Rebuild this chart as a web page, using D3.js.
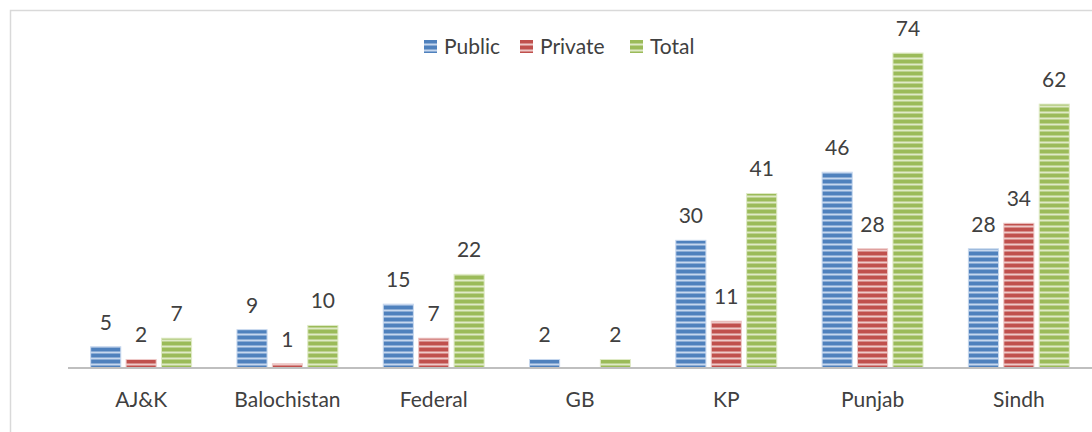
<!DOCTYPE html>
<html>
<head>
<meta charset="utf-8">
<script src="https://cdn.jsdelivr.net/npm/d3@7"></script>
<style>
  html, body { margin: 0; padding: 0; background: #fff; }
  svg { display: block; }
  text { font-family: Lato, "Liberation Sans", sans-serif; fill: #404040; }
</style>
</head>
<body>
<script>
var
  categories = ['AJ&K', 'Balochistan', 'Federal', 'GB', 'KP', 'Punjab', 'Sindh'],
  seriesNames = ['Public', 'Private', 'Total'],
  publicValues = [5, 9, 15, 2, 30, 46, 28],
  privateValues = [2, 1, 7, null, 11, 28, 34],
  totalValues = [7, 10, 22, 2, 41, 74, 62],
  seriesColors = ['#4f81bd', '#c0504d', '#9bbb59'],
  stripeColors = ['#c6d7ee', '#eec9c8', '#dfeac6'],

  config = {
    w : 1092,
    h : 432,
    left : 68,
    right : 1092,
    base : 368,
    top : 27.5
  },

  buildRows = function buildRows() {
    var values = [publicValues, privateValues, totalValues];
    return categories.map(function (cat, i) {
      return {
        cat : cat,
        bars : seriesNames.map(function (s, j) {
          return { series : s, idx : j, value : values[j][i] };
        })
      };
    });
  },

  addPatterns = function addPatterns(svg) {
    var defs = svg.append('defs');
    seriesNames.forEach(function (s, j) {
      var p = defs.append('pattern')
        .attr('id', 'stripe' + j)
        .attr('patternUnits', 'userSpaceOnUse')
        .attr('width', 8)
        .attr('height', 6);
      p.append('rect').attr('width', 8).attr('height', 6).attr('fill', seriesColors[j]);
      p.append('rect').attr('y', 3.5).attr('width', 8).attr('height', 2).attr('fill', stripeColors[j]);
    });
  },

  draw = function draw() {
    var svg = d3.select('body').append('svg')
      .attr('width', config.w).attr('height', config.h);

    addPatterns(svg);

    // chart frame
    svg.append('rect')
      .attr('x', 10.5).attr('y', 10.5)
      .attr('width', 1100).attr('height', 440)
      .attr('fill', 'none').attr('stroke', '#d9d9d9').attr('stroke-width', 1.5);

    var rows = buildRows();

    var x0 = d3.scaleBand()
      .domain(categories)
      .range([config.left, config.right])
      .paddingInner(0.31)
      .paddingOuter(0.155);

    var x1 = d3.scaleBand()
      .domain(seriesNames)
      .range([0, x0.bandwidth()])
      .paddingInner(0.15);

    var y = d3.scaleLinear()
      .domain([0, 80])
      .range([config.base, config.top]);

    var groups = svg.selectAll('g.cat').data(rows).enter().append('g')
      .attr('class', 'cat')
      .attr('transform', function (d) { return 'translate(' + x0(d.cat) + ',0)'; });

    var bars = groups.selectAll('g.bar')
      .data(function (d) { return d.bars.filter(function (b) { return b.value != null; }); })
      .enter().append('g').attr('class', 'bar');

    bars.append('rect')
      .attr('x', function (d) { return x1(d.series); })
      .attr('y', function (d) { return y(d.value); })
      .attr('width', x1.bandwidth())
      .attr('height', function (d) { return y(0) - y(d.value); })
      .attr('fill', function (d) { return 'url(#stripe' + d.idx + ')'; })
      .attr('stroke', function (d) { return stripeColors[d.idx]; })
      .attr('stroke-width', 1);

    bars.append('text')
      .attr('x', function (d) { return x1(d.series) + x1.bandwidth() / 2; })
      .attr('y', function (d) { return y(d.value) - 17; })
      .attr('text-anchor', 'middle')
      .style('font-size', '21px')
      .text(function (d) { return d.value; });

    // category axis
    var axis = svg.append('g')
      .attr('transform', 'translate(0,' + config.base + ')')
      .call(d3.axisBottom(x0).tickSize(0).tickPadding(24));
    axis.select('.domain').attr('stroke', '#bfbfbf').attr('stroke-width', 2)
      .attr('d', 'M' + config.left + ',0H' + config.right);
    axis.selectAll('text')
      .style('font-size', '21px')
      .style('font-family', 'Lato, "Liberation Sans", sans-serif')
      .attr('fill', '#595959');

    // legend
    var legend = svg.append('g').attr('transform', 'translate(424,40)');
    var offsets = [0, 96, 206];
    var items = legend.selectAll('g').data(seriesNames).enter().append('g')
      .attr('transform', function (d, i) { return 'translate(' + offsets[i] + ',0)'; });
    items.append('rect')
      .attr('width', 13).attr('height', 13)
      .attr('fill', function (d, i) { return 'url(#stripe' + i + ')'; });
    items.append('text')
      .attr('x', 20).attr('y', 14)
      .style('font-size', '21px')
      .attr('fill', '#595959')
      .text(function (d) { return d; });
  };

window.addEventListener('load', draw);
</script>
</body>
</html>
